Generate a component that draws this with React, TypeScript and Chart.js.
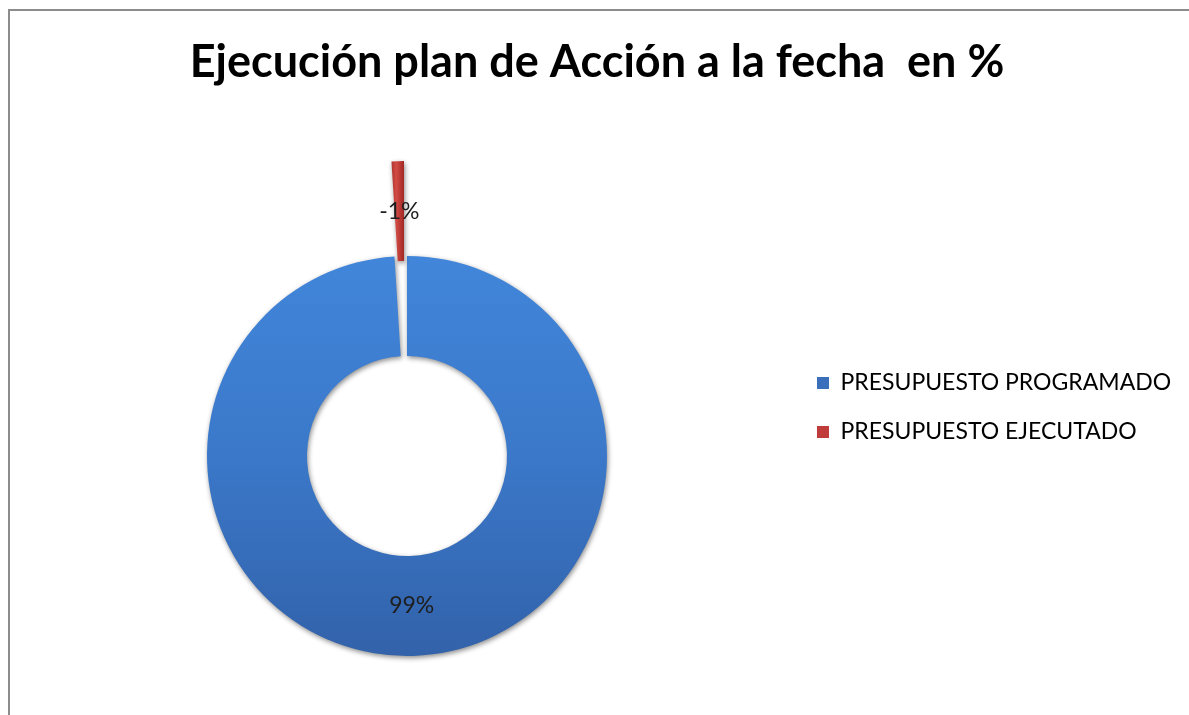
import React, { useEffect, useRef } from "react";
import { Chart, registerables, ArcElement } from "chart.js";

Chart.register(...registerables);

const TITLE = "Ejecución plan de Acción a la fecha  en %";
const categories = ["PRESUPUESTO PROGRAMADO", "PRESUPUESTO EJECUTADO"];
const values = [99, -1];
const sliceColors = ["#3a70bb", "#c03c3a"];
// explosion distance of each slice, in pixels (style, not data)
const sliceExplode = [0, 95];

const FONT = "Lato, 'Open Sans', sans-serif";

function explodeVector(arc: any, i: number) {
  const d = sliceExplode[i] || 0;
  const mid = (arc.startAngle + arc.endAngle) / 2;
  return { dx: Math.cos(mid) * d, dy: Math.sin(mid) * d };
}

const donutPlugin = {
  id: "donutStyle",
  beforeDatasetsDraw(chart: any) {
    const ctx = chart.ctx;
    const meta = chart.getDatasetMeta(0);
    meta.data.forEach((arc: any, i: number) => {
      const { dx, dy } = explodeVector(arc, i);
      if (i === 0) {
        const g = ctx.createLinearGradient(0, arc.y - arc.outerRadius, 0, arc.y + arc.outerRadius);
        g.addColorStop(0, "#4186da");
        g.addColorStop(0.5, "#3b78c9");
        g.addColorStop(1, "#3262aa");
        arc.options.backgroundColor = g;
      } else {
        const c = arc.tooltipPosition();
        const g = ctx.createLinearGradient(c.x + dx - 7, 0, c.x + dx + 7, 0);
        g.addColorStop(0, "#a52a27");
        g.addColorStop(0.5, "#d24b45");
        g.addColorStop(1, "#a52a27");
        arc.options.backgroundColor = g;
      }
      if (dx || dy) {
        arc.draw = function (c: CanvasRenderingContext2D) {
          c.save();
          c.translate(dx, dy);
          ArcElement.prototype.draw.call(this, c);
          c.restore();
        };
      }
    });
    ctx.save();
    ctx.shadowColor = "rgba(0,0,0,0.45)";
    ctx.shadowBlur = 5;
    ctx.shadowOffsetX = 1;
    ctx.shadowOffsetY = 2;
  },
  afterDatasetsDraw(chart: any) {
    const ctx = chart.ctx;
    ctx.restore();
    const meta = chart.getDatasetMeta(0);
    ctx.save();
    ctx.font = `23px ${FONT}`;
    ctx.fillStyle = "#1e1e1e";
    ctx.textAlign = "center";
    ctx.textBaseline = "middle";
    meta.data.forEach((arc: any, i: number) => {
      const p = arc.tooltipPosition();
      const { dx, dy } = explodeVector(arc, i);
      ctx.fillText(`${values[i]}%`, p.x + dx, p.y + dy);
    });
    ctx.restore();
  },
};

export default function App() {
  const ref = useRef<HTMLCanvasElement>(null);
  useEffect(() => {
    if (!ref.current) return;
    const chart = new Chart(ref.current, {
      type: "doughnut",
      data: {
        labels: categories,
        datasets: [
          {
            data: values,
            backgroundColor: sliceColors,
            borderWidth: 0,
            radius: 200,
            cutout: "50%",
            clip: false,
          } as any,
        ],
      },
      options: {
        responsive: false,
        animation: false,
        events: [],
        layout: { padding: { left: 23, right: 18, top: 0, bottom: -100 } },
        plugins: {
          title: {
            display: true,
            text: TITLE,
            color: "#000",
            font: { family: FONT, size: 45, weight: "bold" },
            padding: { top: 35, bottom: 108 },
          },
          legend: {
            display: true,
            position: "right",
            align: "center",
            maxWidth: 380,
            labels: {
              color: "#000",
              font: { family: FONT, size: 23 },
              boxWidth: 12,
              boxHeight: 12,
              padding: 26,
            },
          },
          tooltip: { enabled: false },
        },
      },
      plugins: [donutPlugin],
    });
    return () => chart.destroy();
  }, []);
  return (
    <div style={{ position: "fixed", left: 0, top: 0, width: 1189, height: 715, overflow: "hidden", background: "#fff" }}>
      <div
        style={{
          position: "absolute",
          left: 8,
          top: 9,
          width: 1300,
          height: 800,
          borderLeft: "2px solid #8c8c8c",
          borderTop: "2px solid #8c8c8c",
        }}
      />
      <canvas ref={ref} width={1189} height={715} style={{ position: "absolute", left: 0, top: 0, width: 1189, height: 715 }} />
    </div>
  );
}
